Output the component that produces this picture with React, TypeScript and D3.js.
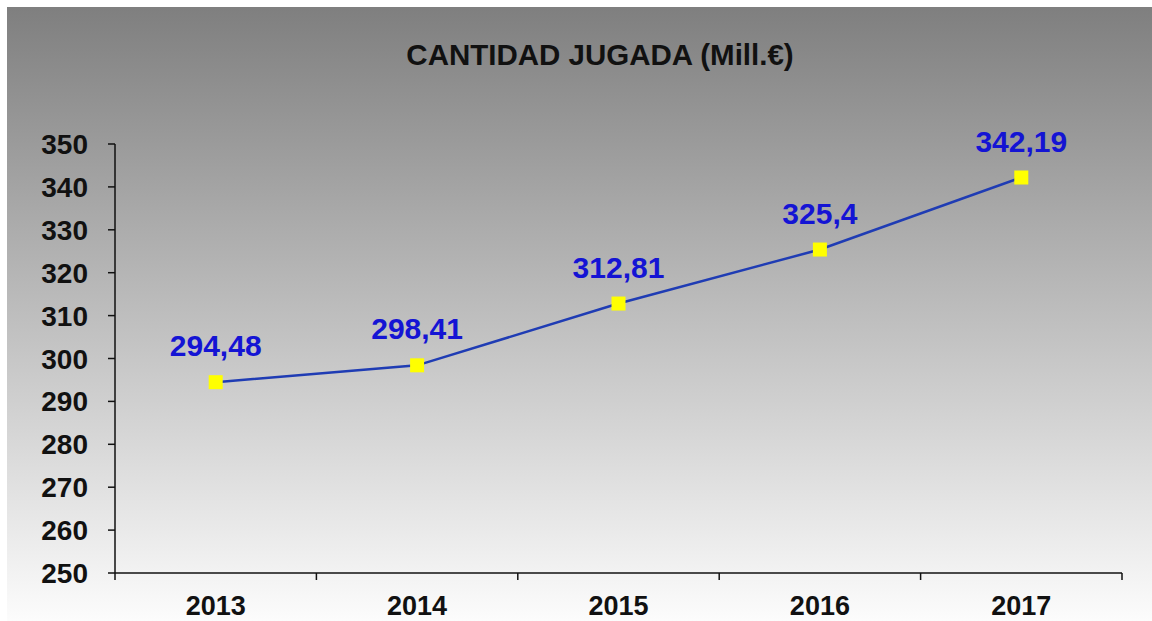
import React from "react";
import * as d3 from "d3";

const title = "CANTIDAD JUGADA (Mill.€)";
const years = ["2013", "2014", "2015", "2016", "2017"];
const values = [294.48, 298.41, 312.81, 325.4, 342.19];
const valueLabels = ["294,48", "298,41", "312,81", "325,4", "342,19"];
const yTicks = [250, 260, 270, 280, 290, 300, 310, 320, 330, 340, 350];

const W = 1152;
const H = 621;
const FONT = "'Liberation Sans', Arial, sans-serif";

export default function App() {
  const left = 115;
  const right = 1122;
  const top = 144;
  const bottom = 573;

  const x = d3.scaleBand<string>().domain(years).range([left, right]).padding(0);
  const y = d3.scaleLinear().domain([250, 350]).range([bottom, top]);

  const line = d3
    .line<number>()
    .x((_, i) => (x(years[i]) as number) + x.bandwidth() / 2)
    .y((d) => y(d));

  const bandEdges = [...years.map((c) => x(c) as number), right];

  return (
    <svg
      width={W}
      height={H}
      style={{ position: "absolute", left: 0, top: 0, display: "block" }}
    >
      <defs>
        <linearGradient id="bg" x1="0" y1="0" x2="0" y2="1">
          <stop offset="0%" stopColor="#7f7f7f" />
          <stop offset="100%" stopColor="#fcfcfc" />
        </linearGradient>
      </defs>
      <rect x={0} y={0} width={W} height={H} fill="#ffffff" />
      <rect x={7} y={7} width={W - 7} height={H - 7} fill="url(#bg)" />

      <text
        x={600}
        y={65}
        textAnchor="middle"
        fontFamily={FONT}
        fontWeight="bold"
        fontSize={29.5}
        fill="#111"
      >
        {title}
      </text>

      {/* Y axis */}
      <line x1={left} x2={left} y1={top} y2={bottom} stroke="#111" strokeWidth={1.5} />
      {yTicks.map((t) => (
        <g key={t}>
          <line x1={left - 7} x2={left} y1={y(t)} y2={y(t)} stroke="#111" strokeWidth={1.5} />
          <text
            x={88}
            y={y(t)}
            dy="0.36em"
            textAnchor="end"
            fontFamily={FONT}
            fontWeight="bold"
            fontSize={28}
            fill="#111"
          >
            {t}
          </text>
        </g>
      ))}

      {/* X axis */}
      <line x1={left} x2={right} y1={bottom} y2={bottom} stroke="#111" strokeWidth={1.5} />
      {bandEdges.map((e, i) => (
        <line key={i} x1={e} x2={e} y1={bottom} y2={bottom + 7} stroke="#111" strokeWidth={1.5} />
      ))}
      {years.map((c) => (
        <text
          key={c}
          x={(x(c) as number) + x.bandwidth() / 2}
          y={615}
          textAnchor="middle"
          fontFamily={FONT}
          fontWeight="bold"
          fontSize={27}
          fill="#111"
        >
          {c}
        </text>
      ))}

      {/* Line */}
      <path d={line(values) || ""} fill="none" stroke="#1f3cb4" strokeWidth={2.5} />

      {values.map((v, i) => {
        const cx = (x(years[i]) as number) + x.bandwidth() / 2;
        const cy = y(v);
        return (
          <g key={i}>
            <rect x={cx - 7} y={cy - 7} width={14} height={14} fill="#ffff00" />
            <text
              x={cx}
              y={cy - 26}
              textAnchor="middle"
              fontFamily={FONT}
              fontWeight="bold"
              fontSize={30}
              fill="#1414d4"
            >
              {valueLabels[i]}
            </text>
          </g>
        );
      })}
    </svg>
  );
}
